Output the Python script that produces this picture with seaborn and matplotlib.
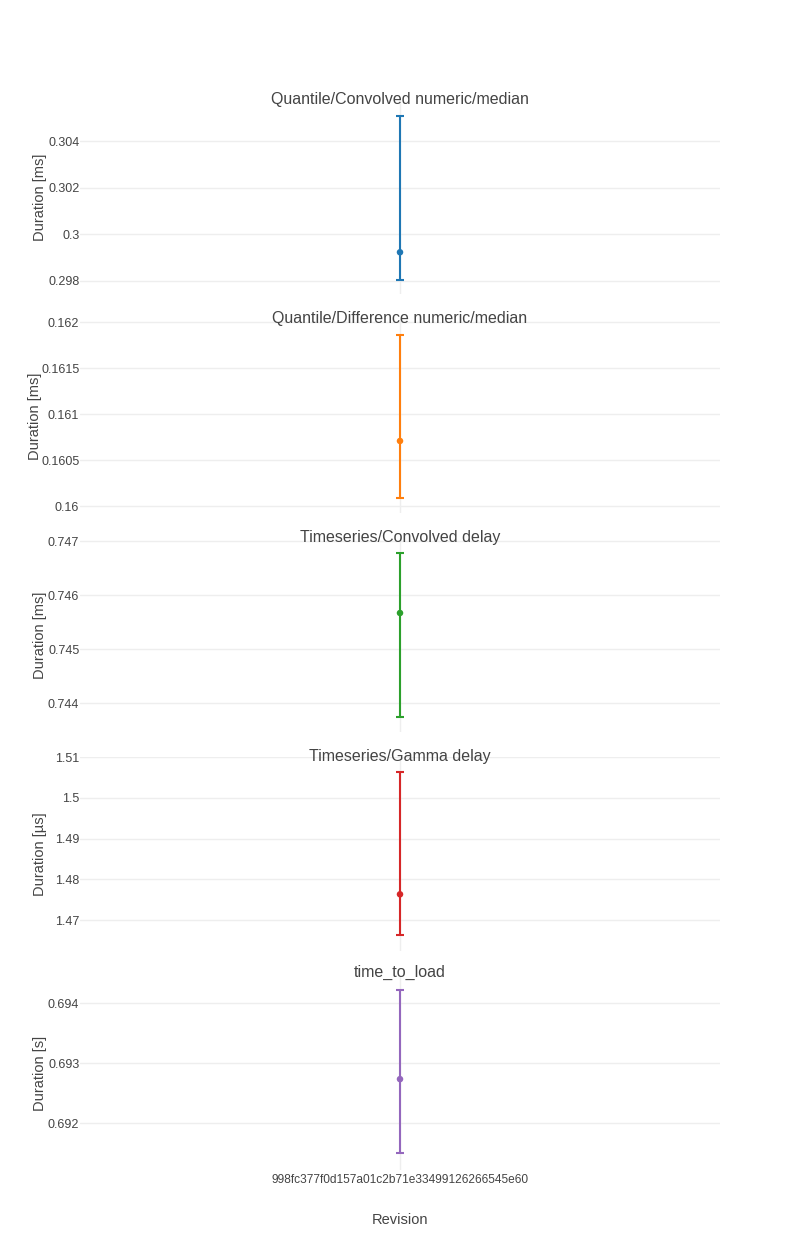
import pandas as pd
import matplotlib
matplotlib.use("Agg")
import matplotlib.pyplot as plt
import seaborn as sns

# data
revision = ["998fc377f0d157a01c2b71e33499126266545e60"]
titles = ["Quantile/Convolved numeric/median",
          "Quantile/Difference numeric/median",
          "Timeseries/Convolved delay",
          "Timeseries/Gamma delay",
          "time_to_load"]
units = ["ms", "ms", "ms", "µs", "s"]
medians = [0.29923, 0.160707, 0.745667, 1.47634, 0.692733]
upper = [0.30507, 0.161859, 0.746778, 1.50634, 0.694217]
lower = [0.29802, 0.160087, 0.743741, 1.46634, 0.69150]
ylims = [(0.29744, 0.30576), (0.159924, 0.162033), (0.743463, 0.747056),
         (1.46244, 1.50976), (0.69122, 0.69445)]
yticks = [[0.298, 0.3, 0.302, 0.304],
          [0.16, 0.1605, 0.161, 0.1615, 0.162],
          [0.744, 0.745, 0.746, 0.747],
          [1.47, 1.48, 1.49, 1.5, 1.51],
          [0.692, 0.693, 0.694]]
colors = ["#1f77b4", "#ff7f0e", "#2ca02c", "#d62728", "#9467bd"]

sns.set_theme(style="white")
plt.rcParams["font.family"] = ["Liberation Sans", "DejaVu Sans"]

fig = plt.figure(figsize=(8, 12.5), dpi=100)
W, H = 800, 1250
grid_c = "#eeeeee"
txt_c = "#444444"

for i in range(5):
    top = 100 + i * 219
    ax = fig.add_axes([80 / W, 1 - (top + 194) / H, 640 / W, 194 / H])
    df = pd.DataFrame({"revision": revision, "median": [medians[i]],
                       "lo": [medians[i] - lower[i]], "hi": [upper[i] - medians[i]]})
    ax.errorbar(x=[0], y=df["median"], yerr=[df["lo"], df["hi"]],
                fmt="none", ecolor=colors[i], elinewidth=1.5, capsize=3,
                capthick=1.5, zorder=3)
    sns.scatterplot(x=[0], y=df["median"], color=colors[i], s=22,
                    edgecolor="none", ax=ax, zorder=4)
    ax.set_xlim(-0.5, 0.5)
    ax.set_ylim(*ylims[i])
    ax.set_yticks(yticks[i])
    ax.set_yticklabels(["%g" % v for v in yticks[i]])
    ax.set_xticks([0])
    for s in ax.spines.values():
        s.set_visible(False)
    ax.grid(True, color=grid_c, linewidth=1)
    ax.set_axisbelow(True)
    ax.tick_params(axis="y", length=0, labelsize=9, colors=txt_c, pad=0.5)
    ax.tick_params(axis="x", length=0, labelsize=8.6, colors=txt_c, pad=3)
    ax.set_ylabel(f"Duration [{units[i]}]", fontsize=10.5, color=txt_c)
    ax.yaxis.set_label_coords(-0.0594 if i == 1 else -0.0516, 0.5)
    ax.annotate(titles[i], xy=(0.5, 1.0), xycoords="axes fraction",
                xytext=(0, 0.5 if i < 4 else 2.5), textcoords="offset points",
                ha="center", va="center", fontsize=11.5, color=txt_c)
    if i < 4:
        ax.set_xticklabels([])
        ax.set_xlabel("")
    else:
        ax.set_xticklabels(revision)
        ax.set_xlabel("Revision", fontsize=10.5, color=txt_c, labelpad=19)

fig.savefig("out.png", dpi=100, facecolor="white")
